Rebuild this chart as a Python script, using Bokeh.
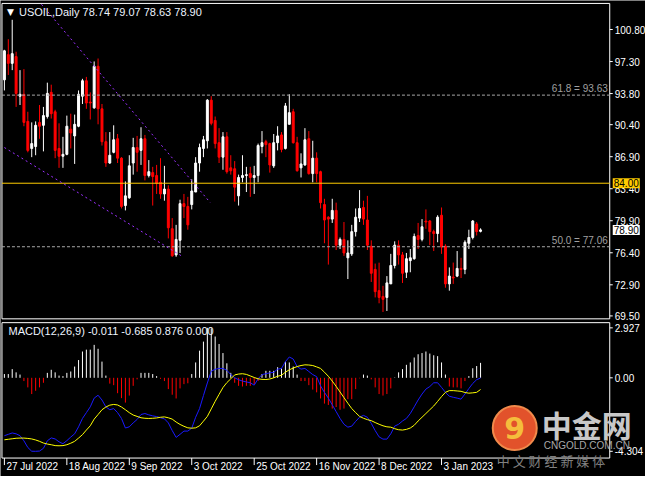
from bokeh.plotting import figure
from bokeh.models import Range1d, Label, ColumnDataSource
from bokeh.core.properties import value
from bokeh.embed import file_html
from bokeh.resources import INLINE

# ---------------- data ----------------
opens = [95.30, 98.05, 97.10, 97.84, 93.51, 93.72, 90.76, 87.80, 88.01, 90.65,
         90.33, 91.29, 93.93, 91.81, 87.80, 86.95, 87.16, 89.91, 89.17, 90.23,
         93.51, 95.20, 92.87, 92.24, 96.78, 92.13, 88.54, 86.21, 87.38, 88.86,
         86.74, 81.56, 82.41, 86.21, 87.90, 87.59, 88.86, 84.84, 85.16, 84.84,
         84.10, 82.83, 83.36, 79.03, 76.17, 77.76, 81.77, 81.46, 81.67, 83.04,
         86.21, 87.80, 88.64, 93.08, 90.86, 88.43, 86.85, 89.07, 85.68, 85.58,
         82.62, 84.63, 84.84, 85.05, 84.63, 84.84, 88.01, 88.54, 88.33, 85.90,
         88.43, 89.28, 87.80, 90.44, 91.81, 88.43, 85.68, 86.00, 88.86, 85.05,
         86.74, 85.26, 81.67, 80.29, 80.08, 81.03, 77.23, 77.86, 75.85, 76.28,
         78.71, 80.19, 81.35, 79.98, 77.12, 74.58, 72.26, 71.63, 71.52, 73.00,
         75.01, 77.23, 76.17, 74.27, 75.54, 75.75, 78.29, 77.86, 79.87, 79.87,
         78.71, 78.50, 80.50, 77.12, 73.00, 73.74, 73.85, 74.69, 74.58, 77.44,
         78.07, 79.55, 78.74]
highs = [98.58, 99.74, 101.86, 98.37, 96.36, 96.47, 91.81, 90.65, 90.76, 92.55,
         92.34, 94.99, 94.77, 92.03, 90.55, 89.07, 91.39, 91.60, 91.50, 94.14,
         95.41, 95.62, 93.93, 97.31, 97.63, 92.66, 89.59, 89.59, 90.33, 89.38,
         86.85, 84.20, 87.06, 88.96, 89.17, 90.12, 89.28, 86.53, 85.79, 86.00,
         86.74, 85.90, 83.78, 80.19, 79.45, 82.20, 82.83, 82.51, 84.42, 86.85,
         88.33, 89.17, 93.19, 93.51, 91.29, 90.02, 89.59, 89.59, 87.06, 86.42,
         84.94, 87.06, 85.79, 85.79, 85.90, 88.33, 89.70, 88.75, 88.43, 89.38,
         90.23, 89.59, 92.77, 93.72, 92.13, 89.07, 87.27, 90.02, 89.70, 88.64,
         87.38, 85.37, 82.30, 80.40, 82.30, 81.88, 78.07, 79.76, 77.76, 79.45,
         81.24, 83.25, 82.09, 82.62, 77.76, 75.22, 75.32, 72.79, 73.85, 76.28,
         77.65, 77.76, 76.49, 76.38, 76.81, 78.50, 79.66, 80.08, 81.14, 79.98,
         78.92, 80.50, 81.35, 77.33, 74.80, 75.33, 76.59, 75.85, 77.76, 78.92,
         79.98, 79.76, 79.07]
lows = [94.14, 95.83, 96.36, 92.34, 92.55, 90.23, 87.38, 86.85, 87.06, 88.86,
        87.48, 91.07, 91.07, 86.74, 85.68, 85.68, 87.06, 87.80, 86.11, 90.12,
        92.66, 92.13, 90.97, 92.13, 90.44, 88.12, 85.79, 86.11, 87.27, 86.21,
        81.24, 81.03, 82.30, 84.94, 85.26, 86.00, 84.31, 84.63, 81.56, 82.83,
        82.30, 82.09, 77.97, 75.96, 75.96, 76.38, 80.19, 78.92, 81.14, 83.04,
        85.26, 86.85, 87.80, 90.33, 87.80, 86.21, 85.47, 85.05, 84.94, 81.99,
        81.56, 84.10, 83.04, 82.51, 82.83, 84.10, 87.27, 86.85, 85.16, 85.68,
        87.59, 87.38, 87.69, 90.44, 88.33, 85.26, 84.63, 85.90, 84.94, 84.10,
        84.10, 81.24, 77.44, 75.11, 79.66, 76.70, 76.81, 76.06, 73.53, 76.06,
        78.18, 79.76, 79.45, 76.70, 73.21, 71.52, 70.88, 69.93, 70.04, 73.00,
        74.69, 75.11, 73.10, 73.64, 74.27, 75.64, 76.81, 77.65, 79.02, 77.23,
        76.59, 77.55, 76.28, 72.58, 72.26, 73.00, 73.74, 73.64, 74.06, 76.81,
        77.86, 78.29, 78.63]
closes = [98.47, 97.10, 98.16, 93.82, 93.72, 90.65, 87.59, 88.33, 90.33, 90.23,
          91.39, 93.82, 91.60, 87.59, 86.95, 87.16, 90.23, 89.49, 90.44, 93.72,
          95.20, 92.77, 92.77, 96.78, 92.13, 88.54, 86.21, 87.06, 88.75, 86.74,
          81.46, 82.62, 85.90, 87.90, 87.38, 88.86, 84.84, 85.26, 84.73, 83.99,
          82.83, 83.36, 79.13, 76.07, 77.86, 81.77, 81.46, 79.45, 83.15, 86.21,
          87.90, 88.75, 93.08, 90.55, 88.33, 86.85, 89.07, 85.26, 85.36, 83.57,
          84.63, 84.84, 84.94, 84.63, 84.84, 88.12, 88.43, 88.22, 86.00, 88.43,
          89.17, 87.69, 92.45, 91.71, 88.43, 85.37, 86.11, 88.75, 85.05, 86.74,
          85.05, 81.88, 79.98, 80.08, 81.03, 77.23, 77.86, 76.38, 76.38, 78.71,
          80.29, 81.24, 80.08, 77.23, 74.16, 72.15, 71.52, 71.31, 73.11, 75.01,
          77.23, 76.17, 74.16, 75.75, 75.85, 78.18, 77.86, 79.24, 79.76, 78.71,
          78.50, 80.29, 77.02, 73.00, 73.85, 73.64, 74.69, 74.58, 77.55, 78.07,
          79.87, 78.71, 78.90]

macd_hist = [0.22, 0.22, 0.51, 0.32, 0.19, -0.19, -0.56, -0.95, -0.76, -0.56,
             -0.29, 0.29, 0.47, 0.32, 0.13, 0.10, 0.29, 0.37, 0.66, 1.04,
             1.54, 1.65, 1.65, 1.93, 1.70, 0.95, 0.13, -0.34, -0.43, -0.90,
             -1.19, -1.45, -1.04, -0.47, -0.09, 0.29, 0.29, 0.29, 0.22, 0.10,
             -0.06, -0.19, -0.66, -0.99, -1.21, -0.62, -0.37, -0.32, 0.22, 0.90,
             1.59, 2.12, 2.927, 2.90, 2.42, 1.98, 1.45, 0.85, 0.29, -0.29,
             -0.47, -0.51, -0.47, -0.47, -0.37, -0.19, 0.22, 0.41, 0.41, 0.41,
             0.62, 0.55, 0.95, 0.90, 0.66, 0.19, -0.19, -0.19, -0.43, -0.69,
             -0.85, -1.21, -1.51, -1.59, -1.80, -1.71, -1.87, -1.80, -1.25, -1.25,
             -0.66, -0.03, 0.19, 0.13, -0.09, -0.56, -0.95, -1.04, -0.95, -0.62,
             0.02, 0.32, 0.51, 0.76, 0.90, 1.19, 1.38, 1.45, 1.54, 1.42,
             1.32, 1.27, 0.90, 0.19, -0.51, -0.56, -0.56, -0.62, -0.19, 0.10,
             0.56, 0.69, 0.876]
macd_main = [-3.39, -3.31, -3.23, -3.28, -3.39, -3.69, -4.08, -4.30, -4.304, -4.29,
             -4.13, -3.69, -3.52, -3.58, -3.75, -3.86, -3.68, -3.47, -3.28, -2.87,
             -2.38, -2.04, -1.70, -1.19, -1.02, -1.30, -1.70, -1.87, -1.80, -2.04,
             -2.38, -2.94, -2.87, -2.64, -2.44, -2.15, -2.09, -2.17, -2.23, -2.27,
             -2.34, -2.40, -2.64, -3.09, -3.49, -3.31, -3.12, -3.12, -2.95, -2.31,
             -1.80, -1.04, -0.30, 0.39, 0.50, 0.55, 0.55, 0.44, 0.19, 0.00,
             -0.11, -0.19, -0.24, -0.29, -0.43, -0.06, 0.19, 0.24, 0.29, 0.32,
             0.51, 0.55, 0.95, 1.22, 1.10, 0.66, 0.51, 0.55, 0.37, 0.19,
             0.07, -0.47, -0.85, -1.19, -1.58, -1.98, -2.38, -2.72, -2.89, -2.83,
             -2.55, -2.31, -2.20, -2.31, -2.67, -3.09, -3.46, -3.59, -3.59, -3.28,
             -2.83, -2.72, -2.53, -2.38, -2.09, -1.70, -1.30, -0.95, -0.66, -0.51,
             -0.29, -0.29, -0.56, -0.85, -1.08, -1.14, -1.19, -1.25, -0.95, -0.63,
             -0.33, -0.11, -0.011]
macd_signal = [-3.63, -3.60, -3.57, -3.54, -3.53, -3.53, -3.55, -3.58, -3.64, -3.72,
               -3.82, -3.88, -3.92, -3.97, -3.98, -3.97, -3.92, -3.83, -3.72, -3.53,
               -3.33, -3.06, -2.81, -2.42, -2.15, -1.87, -1.71, -1.60, -1.56, -1.59,
               -1.71, -1.87, -2.04, -2.18, -2.26, -2.34, -2.37, -2.38, -2.37, -2.35,
               -2.31, -2.29, -2.34, -2.42, -2.59, -2.73, -2.84, -2.93, -2.95, -2.93,
               -2.81, -2.54, -2.26, -1.82, -1.38, -0.97, -0.57, -0.28, -0.06, 0.17,
               0.22, 0.24, 0.20, 0.11, 0.02, -0.06, -0.09, -0.10, -0.07, 0.00,
               0.09, 0.15, 0.33, 0.47, 0.57, 0.66, 0.72, 0.76, 0.75, 0.72,
               0.64, 0.55, 0.33, 0.09, -0.19, -0.50, -0.83, -1.16, -1.49, -1.80,
               -2.04, -2.26, -2.37, -2.45, -2.51, -2.62, -2.72, -2.81, -2.87, -2.89,
               -2.98, -3.04, -3.06, -3.02, -2.94, -2.78, -2.53, -2.31, -2.09, -1.87,
               -1.65, -1.38, -1.10, -0.85, -0.75, -0.75, -0.77, -0.79, -0.86, -0.90,
               -0.88, -0.85, -0.685]

date_ticks = [0, 16, 32, 48, 64, 80, 96, 112]
date_labels = ["27 Jul 2022", "18 Aug 2022", "9 Sep 2022", "3 Oct 2022",
               "25 Oct 2022", "16 Nov 2022", "8 Dec 2022", "3 Jan 2023"]
price_ticks = [100.80, 97.30, 93.80, 90.40, 86.90, 83.40, 79.90, 76.40, 72.90, 69.50]
macd_ticks = [2.927, 0.0, -4.304]
macd_tick_labels = ["2.927", "0.00", "-4.304"]

fib_levels = [93.63, 77.06]
fib_names = ["61.8", "50.0"]
resistance = 84.00
last_price = 78.90

upper_trend_x = [9.5, 52.75]
upper_trend_y = [103.55, 81.88]
lower_trend_x = [0.0, 45.75]
lower_trend_y = [87.90, 75.96]

header = "USOIL,Daily  78.74 79.07 78.63 78.90"
macd_header = "MACD(12,26,9) -0.011 -0.685 0.876 0.000"

# ---------------- layout constants ----------------
W, H = 645, 476
x_lo, x_hi = -1.0, 164.26          # bar index across the whole canvas
y_lo, y_hi = 51.95, 103.97         # price across the whole canvas
m_lo, m_hi = -5.78, 22.10          # MACD across the whole canvas
chart_l, chart_r = -0.625, 155.1   # panel borders (bar index)
price_top, price_bot = 103.65, 69.18
macd_top, macd_bot = 3.23, -4.70
ppx = W / (x_hi - x_lo)            # pixels per bar
mpp = (m_hi - m_lo) / H            # MACD units per pixel

FONT = "Liberation Sans"
FS = "10px"
RED = "#ff0000"

p = figure(width=W, height=H, x_range=Range1d(x_lo, x_hi), y_range=Range1d(y_lo, y_hi),
           output_backend="svg", toolbar_location=None, min_border=0,
           x_axis_location=None, y_axis_location=None,
           background_fill_color="black", border_fill_color="black",
           outline_line_color=None)
p.grid.visible = False
p.extra_y_ranges = {"macd": Range1d(m_lo, m_hi)}

n = len(opens)
xs = list(range(n))
src = ColumnDataSource(dict(
    x=xs, h=highs, l=lows,
    col=["white" if c >= o else RED for o, c in zip(opens, closes)],
    top=[max(o, c) for o, c in zip(opens, closes)],
    bot=[min(o, c) for o, c in zip(opens, closes)],
))

# panel borders
p.quad(left=[chart_l], right=[chart_r], top=[price_top], bottom=[price_bot],
       fill_color=None, line_color="white", line_width=1)
p.quad(left=[chart_l], right=[chart_r], top=[macd_top], bottom=[macd_bot],
       fill_color=None, line_color="white", line_width=1, y_range_name="macd")

# candles
p.segment(x0="x", y0="l", x1="x", y1="h", color="col", line_width=1, source=src)
p.vbar(x="x", width=0.5, top="top", bottom="bot", fill_color="col",
       line_color="col", line_width=1, source=src)

# objects on the chart
p.segment(x0=[chart_l] * 2, x1=[chart_r] * 2, y0=fib_levels, y1=fib_levels,
          line_color="#a8a8a8", line_dash="3 2", line_width=1)
p.segment(x0=[chart_l], x1=[chart_r], y0=[resistance], y1=[resistance],
          line_color="#ffcc00", line_width=1)
p.line(upper_trend_x, upper_trend_y, line_color="#9b30ff", line_dash="2 3", line_width=1)
p.line(lower_trend_x, lower_trend_y, line_color="#9b30ff", line_dash="2 3", line_width=1)

# price scale
p.segment(x0=[chart_r] * len(price_ticks), x1=[chart_r + 3 / ppx] * len(price_ticks),
          y0=price_ticks, y1=price_ticks, line_color="white", line_width=1)
p.text(x=[chart_r] * len(price_ticks), y=price_ticks, text=[f"{t:.2f}" for t in price_ticks],
       x_offset=5, text_baseline="middle", text_align="left", text_color="white",
       text_font=value(FONT), text_font_size=FS)

for lv, nm in zip(fib_levels, fib_names):
    p.add_layout(Label(x=chart_r, y=lv, x_offset=-2, y_offset=1, text=f"{nm} = {lv:.2f}",
                       text_align="right", text_baseline="bottom",
                       text_color="#a0a0a0", text_font=FONT, text_font_size=FS))

box_kw = dict(text_align="left", text_baseline="middle", text_color="black",
              text_font=FONT, text_font_size=FS)
lab84 = Label(x=chart_r, y=resistance, x_offset=3, text=f"{resistance:.2f}",
              background_fill_color="#ffcc00", **box_kw)
lab79 = Label(x=chart_r, y=last_price, x_offset=3, text=f"{last_price:.2f}",
              background_fill_color="white", **box_kw)
for lb in (lab84, lab79):
    try:
        lb.padding = 1
    except Exception:
        pass
    p.add_layout(lb)

p.add_layout(Label(x=chart_l, y=price_top, x_offset=8.5, y_offset=-8.5, text="\u25bc",
                   text_align="center", text_baseline="middle", text_color="white",
                   text_font="DejaVu Sans", text_font_size="9px"))
p.add_layout(Label(x=chart_l, y=price_top, x_offset=17, y_offset=-8.5, text=header,
                   text_align="left", text_baseline="middle", text_color="#eef4ff",
                   text_font=FONT, text_font_size="11px"))

# MACD panel
hsrc = ColumnDataSource(dict(x=xs, h=macd_hist, z=[0.0] * n,
                             col=["white" if v >= 0 else RED for v in macd_hist]))
p.segment(x0="x", y0="z", x1="x", y1="h", color="col", line_width=1, source=hsrc,
          y_range_name="macd")
p.line(xs, macd_main, line_color="#1a1aff", line_width=1, y_range_name="macd")
p.line(xs, macd_signal, line_color="#ffff00", line_width=1, y_range_name="macd")

p.segment(x0=[chart_r] * 3, x1=[chart_r + 3 / ppx] * 3, y0=macd_ticks, y1=macd_ticks,
          line_color="white", line_width=1, y_range_name="macd")
p.text(x=[chart_r] * 3, y=macd_ticks, text=macd_tick_labels, x_offset=5,
       text_baseline="middle", text_align="left", text_color="white",
       text_font=value(FONT), text_font_size=FS, y_range_name="macd")

p.add_layout(Label(x=chart_l, y=macd_top, x_offset=6.5, y_offset=-8.7, text=macd_header,
                   text_align="left", text_baseline="middle", text_color="#eef4ff",
                   text_font=FONT, text_font_size="11px", y_range_name="macd"))

# time scale
p.segment(x0=date_ticks, x1=date_ticks, y0=[macd_bot] * len(date_ticks),
          y1=[macd_bot - 7 * mpp] * len(date_ticks), line_color="white", line_width=1,
          y_range_name="macd")
p.text(x=date_ticks, y=[macd_bot] * len(date_ticks), text=date_labels, x_offset=2,
       y_offset=3, text_baseline="top", text_align="left", text_color="white",
       text_font=value(FONT), text_font_size=FS, y_range_name="macd")

# watermark (logo)
p.scatter(x=[chart_r - 95 / ppx], y=[macd_bot + 30 * mpp], size=44, marker="circle",
          fill_color="#e2522b", line_color="#f08a4b", line_width=2, y_range_name="macd")
p.add_layout(Label(x=chart_r, y=macd_bot, x_offset=-95, y_offset=30, text="9",
                   text_align="center", text_baseline="middle", text_color="#f5bd3c",
                   text_font="DejaVu Sans", text_font_size="30px", text_font_style="bold",
                   y_range_name="macd"))
p.add_layout(Label(x=chart_r, y=macd_bot, x_offset=-68, y_offset=34, text="中金网",
                   text_align="left", text_baseline="middle", text_color="#c8c8c8",
                   text_font="Noto Sans CJK SC", text_font_size="30px",
                   text_font_style="bold", y_range_name="macd"))
p.add_layout(Label(x=chart_r, y=macd_bot, x_offset=-66, y_offset=12.5, text="CNGOLD.COM.CN",
                   text_align="left", text_baseline="middle", text_color="#a8a8a8",
                   text_font=FONT, text_font_size="10px", y_range_name="macd"))
p.add_layout(Label(x=chart_r, y=macd_bot, x_offset=-113, y_offset=-2.5,
                   text="中  文  财  经  新  媒  体",
                   text_align="left", text_baseline="middle", text_color="#808080",
                   text_font="Noto Sans CJK SC", text_font_size="13px", y_range_name="macd"))

open("out.html", "w").write(file_html(p, INLINE))
